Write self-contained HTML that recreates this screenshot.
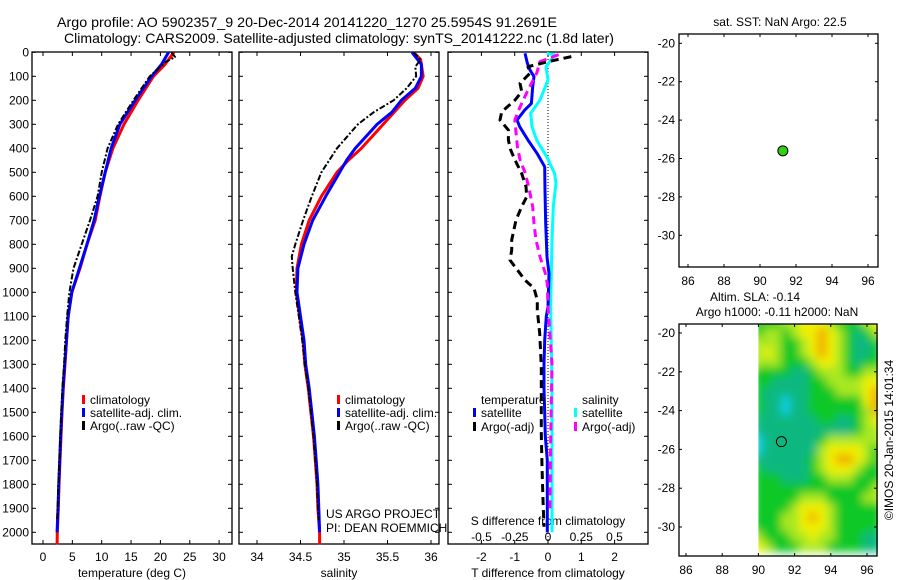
<!DOCTYPE html>
<html><head><meta charset="utf-8"><style>
html,body{margin:0;padding:0;background:#fff;}
svg{display:block;font-family:"Liberation Sans",sans-serif;}
text{font-size:12px;fill:#000;}
</style></head><body>
<svg id="c" width="900" height="580" viewBox="0 0 900 580" xmlns="http://www.w3.org/2000/svg">
<text x="57" y="27" textLength="500" lengthAdjust="spacingAndGlyphs" style="font-size:14px">Argo profile: AO 5902357_9 20-Dec-2014 20141220_1270 25.5954S 91.2691E</text>
<text x="64" y="43" textLength="550" lengthAdjust="spacingAndGlyphs" style="font-size:14px">Climatology: CARS2009. Satellite-adjusted climatology: synTS_20141222.nc (1.8d later)</text>
<g id="g"></g>
</svg>
<script>
// ---- data ----
const tempDepthClim=[0,50,100,200,300,400,500,600,700,800,900,1000,1100,1200,1300,1400,1500,1600,1700,1800,1900,2000,2050];
const tempClim=[22.3,20.8,18.8,16.2,13.8,11.9,10.6,9.7,8.9,7.5,6.3,4.9,4.3,4.0,3.75,3.46,3.23,3.06,2.9,2.72,2.6,2.44,2.4];
const tempDepthSat=[0,50,100,200,300,400,500,600,700,800,900,1000,1100,1200,1300,1400,1500,1600,1700,1800,1900,2000];
const tempSat=[21.4,20.2,18.5,15.7,13.1,11.6,10.6,9.6,8.7,7.5,6.2,4.9,4.3,4.0,3.7,3.4,3.2,3.0,2.85,2.7,2.55,2.4];
const tempDepthArgo=[0,20,40,100,200,300,400,500,600,700,800,900,1000,1100,1200,1300,1400,1500,1600,1700,1800,1900,1950];
const tempArgo=[21.9,22.5,20.9,18.2,15.4,12.8,11.0,10.0,9.3,8.0,6.6,5.2,4.5,4.1,3.8,3.6,3.3,3.1,2.95,2.8,2.6,2.5,2.4];
const salDepthClim=[0,30,100,150,200,300,400,450,500,600,700,800,900,1000,1100,1200,1300,1400,1500,1600,1700,1800,1900,2000,2050];
const salClim=[35.80,35.88,35.91,35.85,35.70,35.45,35.20,35.05,34.92,34.74,34.60,34.51,34.46,34.45,34.49,34.53,34.55,34.59,34.62,34.65,34.67,34.69,34.70,34.72,34.72];
const salDepthSat=[0,50,100,150,200,250,300,400,450,500,600,700,800,900,1000,1100,1200,1300,1400,1500,1600,1700,1800,1900,2000];
const salSat=[35.78,35.89,35.89,35.82,35.66,35.55,35.38,35.13,35.03,34.95,34.79,34.64,34.54,34.47,34.46,34.50,34.54,34.56,34.60,34.63,34.66,34.68,34.70,34.71,34.72];
const salDepthArgo=[0,30,60,100,150,200,250,300,400,500,600,700,800,850,900,1000,1100,1200,1300,1400,1500,1600,1700,1800,1900,1950];
const salArgo=[35.80,35.88,35.82,35.83,35.72,35.57,35.34,35.16,34.92,34.74,34.63,34.53,34.44,34.40,34.41,34.44,34.48,34.52,34.55,34.59,34.62,34.65,34.67,34.69,34.70,34.71];
const dTSatDepth=[4,46,74,101,143,213,241,282,310,366,421,477,574,713,852,921,1060,1100,1200,1300,1400,1500,1600,1700,1800,2000];
const dTSat=[-0.69,-0.62,-0.54,-0.42,-0.46,-0.5,-0.7,-0.93,-0.85,-0.6,-0.33,-0.1,-0.09,-0.07,-0.03,0.03,0.0,-0.05,-0.1,-0.12,-0.12,-0.1,-0.08,-0.02,-0.02,-0.02];
const dTArgoDepth=[18,39,60,87,129,164,199,248,282,324,366,407,449,505,560,602,643,699,782,824,866,907,949,983,1032,1074,1171,1310,1449,1588,1727,1866,1977];
const dTArgo=[0.7,0.0,-0.6,-0.54,-0.84,-0.79,-0.99,-1.39,-1.44,-1.19,-1.19,-1.12,-0.99,-0.79,-0.66,-0.64,-0.79,-0.96,-1.09,-1.09,-1.14,-0.92,-0.69,-0.42,-0.32,-0.32,-0.25,-0.2,-0.2,-0.2,-0.18,-0.15,-0.12];
const dSSatDepth=[4,10,60,115,199,254,310,366,435,505,546,643,782,921,1060,1400,1800,2000];
const dSSat=[-0.01,0.05,-0.015,0,-0.06,-0.13,-0.12,-0.085,-0.01,0.05,0.06,0.04,0.03,0.025,0.02,0.03,0.03,0.03];
const dSArgoDepth=[10,39,87,157,227,282,338,393,449,505,574,643,713,782,852,921,963,1060,1300,1600,1900];
const dSArgo=[0.08,-0.06,-0.085,-0.15,-0.21,-0.25,-0.24,-0.23,-0.21,-0.17,-0.14,-0.115,-0.105,-0.09,-0.06,-0.02,-0.005,0.0,0.03,0.02,0.015];
const depthTicks=[0,100,200,300,400,500,600,700,800,900,1000,1100,1200,1300,1400,1500,1600,1700,1800,1900,2000];
const tempTicks=[0,5,10,15,20,25,30];
const salTicks=[34,34.5,35,35.5,36];
const salTickLabels=["34","34.5","35","35.5","36"];
const dTTicks=[-2,-1,0,1,2];
const dSTicks=[-0.5,-0.25,0,0.25,0.5];
const dSTickLabels=["-0.5","-0.25","0","0.25","0.5"];
const lonTicks=[86,88,90,92,94,96];
const latTicks=[-20,-22,-24,-26,-28,-30];
const argoLon=[91.27];
const argoLat=[-25.6];
// SLA grid: rows from lat -19.5 downward in 0.5 deg, cols from lon 90 in 0.5 deg
const slaGrid=[
[2,2,2,3,3,4,4,4,3,2,2,2,3,4],
[2,3,3,2,3,4,4,5,4,3,2,1,2,3],
[3,3,3,2,2,3,4,5,4,3,2,1,1,2],
[3,4,3,2,2,3,4,5,4,3,2,1,1,2],
[3,3,3,2,2,2,3,4,4,3,2,1,2,2],
[2,2,2,2,1,1,2,3,3,3,2,2,3,3],
[2,2,1,1,1,1,2,2,3,3,3,3,4,4],
[2,1,1,1,1,1,2,2,2,3,3,3,4,5],
[2,1,1,0,1,1,2,2,2,2,2,2,4,5],
[2,1,1,0,1,1,2,2,2,2,2,2,3,5],
[1,1,1,1,1,1,1,2,2,1,1,2,3,4],
[1,1,1,1,1,1,1,1,1,1,1,2,3,3],
[0,1,1,1,1,1,1,2,3,3,3,3,3,3],
[0,1,1,1,1,1,1,3,4,4,4,4,3,2],
[1,1,1,1,1,1,2,3,4,5,5,4,3,2],
[2,1,1,1,1,1,2,3,4,4,4,3,2,2],
[2,2,2,1,1,1,2,2,3,3,3,2,2,2],
[2,2,2,2,2,2,2,2,2,2,2,2,2,3],
[2,2,2,2,2,3,3,3,2,2,2,2,3,3],
[2,2,2,2,3,4,4,4,3,2,2,2,2,2],
[2,2,2,3,3,4,5,4,3,2,2,2,2,2],
[2,2,2,3,3,4,4,4,3,2,2,2,2,2],
[3,2,2,2,3,3,4,3,3,2,2,2,1,1],
[4,3,2,2,2,3,3,3,2,2,2,2,1,1]];
const slaColors=["#10d0e0","#10b880","#10c828","#a8e820","#f0f000","#f0a800"];

// ---- drawing ----
const NS="http://www.w3.org/2000/svg";
const G=document.getElementById('g');
function mk(tag,attrs,parent){const e=document.createElementNS(NS,tag);for(const k in attrs)e.setAttribute(k,attrs[k]);(parent||G).appendChild(e);return e;}
function txt(x,y,s,anchor,parent){const t=mk('text',{x:x,y:y,'text-anchor':anchor||'start'},parent);t.textContent=s;return t;}
const yD=d=>52.3+d*0.24;
const xT=v=>43+v*5.87;
const xS=v=>257+(v-34)*87;
const xdT=v=>548+v*33.3;
const xdS=v=>548+v*133;

function frame(x0,x1,y0,y1,name){
  const r=mk('rect',{x:x0,y:y0,width:x1-x0,height:y1-y0,fill:'none',stroke:'#000','stroke-width':1.3});
  
  
}
function line(xs,ys,color,w,dash,name){
  let d='';for(let i=0;i<xs.length;i++)d+=(i?'L':'M')+xs[i].toFixed(1)+' '+ys[i].toFixed(1);
  const p=mk('path',{d:d,fill:'none',stroke:color,'stroke-width':w,'stroke-dasharray':dash||'none','stroke-linejoin':'round'});
  
  
}
const panels=[[32,232],[239,439],[448,648]];
panels.forEach((p,i)=>{
  frame(p[0],p[1],52,544,'profile-panel-'+(i+1));
  depthTicks.forEach(d=>{
    mk('line',{x1:p[0],x2:p[0]+4,y1:yD(d),y2:yD(d),stroke:'#000'});
    mk('line',{x1:p[1],x2:p[1]-4,y1:yD(d),y2:yD(d),stroke:'#000'});
  });
});
depthTicks.forEach(d=>{const t=txt(29,yD(d)+4,String(d),'end');
  
  });
tempTicks.forEach(v=>{mk('line',{x1:xT(v),x2:xT(v),y1:544,y2:540,stroke:'#000'});mk('line',{x1:xT(v),x2:xT(v),y1:52,y2:56,stroke:'#000'});
  const t=txt(xT(v),561,String(v),'middle');
  
  });
salTicks.forEach((v,i)=>{mk('line',{x1:xS(v),x2:xS(v),y1:544,y2:540,stroke:'#000'});mk('line',{x1:xS(v),x2:xS(v),y1:52,y2:56,stroke:'#000'});
  const t=txt(xS(v),561,salTickLabels[i],'middle');
  
  });
dTTicks.forEach(v=>{mk('line',{x1:xdT(v),x2:xdT(v),y1:544,y2:540,stroke:'#000'});mk('line',{x1:xdT(v),x2:xdT(v),y1:52,y2:56,stroke:'#000'});
  const t=txt(xdT(v),561,String(v),'middle');
  
  });
dSTicks.forEach((v,i)=>{const t=txt(xdS(v),541,dSTickLabels[i],'middle');
  
  });
let t;
t=txt(132,577,'temperature (deg C)','middle');
t=txt(339,577,'salinity','middle');
t=txt(548,577,'T difference from climatology','middle');
t=txt(548,525,'S difference from climatology','middle');
t=txt(326,518,'US ARGO PROJECT');
t=txt(326,532,'PI: DEAN ROEMMICH');
mk('line',{x1:548,x2:548,y1:53,y2:544,stroke:'#000','stroke-dasharray':'1 2'});

line(tempClim.map(xT),tempDepthClim.map(yD),'#f00',3,null,'temp-climatology-line');
line(tempSat.map(xT),tempDepthSat.map(yD),'#00f',3,null,'temp-satellite-line');
line(tempArgo.map(xT),tempDepthArgo.map(yD),'#000',2,'6 2 2 2','temp-argo-line');
line(salClim.map(xS),salDepthClim.map(yD),'#f00',3,null,'sal-climatology-line');
line(salSat.map(xS),salDepthSat.map(yD),'#00f',3,null,'sal-satellite-line');
line(salArgo.map(xS),salDepthArgo.map(yD),'#000',2,'6 2 2 2','sal-argo-line');
line(dSSat.map(xdS),dSSatDepth.map(yD),'#0ff',3,null,'s-diff-satellite-line');
line(dTSat.map(xdT),dTSatDepth.map(yD),'#00f',3,null,'t-diff-satellite-line');
line(dSArgo.map(xdS),dSArgoDepth.map(yD),'#f0f',3,'8 5','s-diff-argo-line');
line(dTArgo.map(xdT),dTArgoDepth.map(yD),'#000',3,'8 5','t-diff-argo-line');

function leg(x,y,color,label,name){mk('rect',{x:x,y:y-9,width:3,height:9,fill:color});const t=txt(x+8,y,label);
  }
[[82,'climatology','#f00'],[82,'satellite-adj. clim.','#00f'],[82,'Argo(..raw -QC)','#000']].forEach((l,i)=>leg(l[0],404+i*13,l[2],l[1],'legend-entry-temp'));
[[337,'climatology','#f00'],[337,'satellite-adj. clim.','#00f'],[337,'Argo(..raw -QC)','#000']].forEach((l,i)=>leg(l[0],404+i*13,l[2],l[1],'legend-entry-sal'));
t=txt(481,404,'temperature');
t=txt(582,404,'salinity');
leg(473,417,'#00f','satellite','legend-entry-t-satellite');
leg(473,431,'#000','Argo(-adj)','legend-entry-t-argo');
leg(574,417,'#0ff','satellite','legend-entry-s-satellite');
leg(574,431,'#f0f','Argo(-adj)','legend-entry-s-argo');

function mapAxes(x0,x1,y0,y1,lonX,latY){
  lonTicks.forEach(v=>{mk('line',{x1:lonX(v),x2:lonX(v),y1:y1,y2:y1-3,stroke:'#000'});mk('line',{x1:lonX(v),x2:lonX(v),y1:y0,y2:y0+3,stroke:'#000'});
    const t=txt(lonX(v),y1+18,String(v),'middle');});
  latTicks.forEach(v=>{mk('line',{x1:x0,x2:x0+3,y1:latY(v),y2:latY(v),stroke:'#000'});mk('line',{x1:x1,x2:x1-3,y1:latY(v),y2:latY(v),stroke:'#000'});
    const t=txt(x0-4,latY(v)+4,String(v),'end');});
}
const lonA=v=>688+(v-86)*18, latA=v=>43.3+(-20-v)*19.2;
frame(679,878,34,267,'sst-map-frame');
mapAxes(679,878,34,267,lonA,latA);
t=txt(780,26,'sat. SST: NaN Argo: 22.5','middle');
argoLon.forEach((lo,i)=>{const c=mk('circle',{cx:lonA(lo),cy:latA(argoLat[i]),r:5,fill:'#30d010',stroke:'#000','stroke-width':1});
  });
const lonB=v=>686+(v-86)*18.1, latB=v=>333+(-20-v)*19.4;
const defs=mk('defs',{});
const cp=mk('clipPath',{id:'clipB'},defs);mk('rect',{x:lonB(90),y:324,width:878-lonB(90),height:232},cp);
const fl=mk('filter',{id:'blur',x:'-5%',y:'-5%',width:'110%',height:'110%'},defs);mk('feGaussianBlur',{stdDeviation:4.5},fl);
const cg=mk('g',{'clip-path':'url(#clipB)'});
const hg=mk('g',{filter:'url(#blur)'},cg);
slaGrid.forEach((row,r)=>row.forEach((v,c)=>{
  const lo=90+c*0.5, la=-19.5-r*0.5;
  const x=lonB(lo-0.25), y=latB(la+0.25);
  const rc=mk('rect',{x:x.toFixed(1),y:y.toFixed(1),width:(0.5*18.1+0.6).toFixed(1),height:(0.5*19.4+0.6).toFixed(1),fill:slaColors[v]},hg);
  
  
}));
frame(679,877,324,556,'sla-map-frame');
mapAxes(679,877,324,556,lonB,latB);
t=txt(755,301,'Altim. SLA: -0.14','middle');
t=txt(777,316,'Argo h1000: -0.11 h2000: NaN','middle');
argoLon.forEach((lo,i)=>{const c=mk('circle',{cx:lonB(lo),cy:latB(argoLat[i]),r:5,fill:'none',stroke:'#000','stroke-width':1});
  });
t=mk('text',{x:0,y:0,'text-anchor':'middle',transform:'translate(893,440) rotate(-90)'});t.textContent='©IMOS 20-Jan-2015 14:01:34';

</script>
</body></html>
